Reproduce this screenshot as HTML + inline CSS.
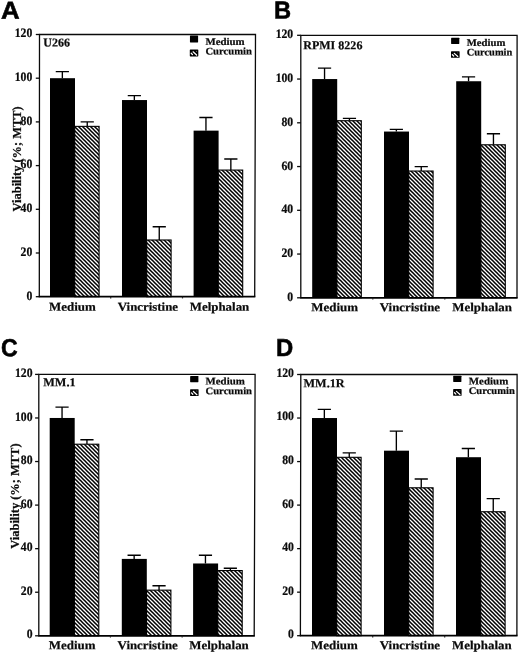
<!DOCTYPE html>
<html lang="en"><head><meta charset="utf-8"><title>Figure</title>
<style>html,body{margin:0;padding:0;background:#fff}svg{display:block;filter:grayscale(1) blur(0.3px)}.s{font-family:"Liberation Serif",serif;font-weight:bold;fill:#0b0b0b;stroke:#0b0b0b;stroke-width:0.22px}.h{font-family:"Liberation Sans",sans-serif;font-weight:bold;fill:#000;stroke:#000;stroke-width:0.55px}</style></head><body>
<svg width="520" height="654" viewBox="0 0 520 654">
<defs><pattern id="hatch" patternUnits="userSpaceOnUse" width="4" height="4"><rect width="4" height="4" fill="#fff"/><path d="M-1,-1 L5,5 M-1,3 L1,5 M3,-1 L5,1" stroke="#000" stroke-width="1.56" fill="none"/></pattern></defs>
<rect width="520" height="654" fill="#fff"/>
<g>
<text class="h" transform="translate(0.9,18.7) rotate(0.03) scale(1.085,1.03)" font-size="23.8">A</text>
<path d="M62.35,78.2 V71.64 M55.75,71.64 H68.95" stroke="#000" stroke-width="1.35" fill="none"/>
<rect x="50" y="78.2" width="25" height="218.5" fill="#000"/>
<path d="M87.25,126.27 V121.9 M80.65,121.9 H93.85" stroke="#000" stroke-width="1.35" fill="none"/>
<rect x="74.7" y="126.37" width="24.4" height="170.33" fill="url(#hatch)" stroke="#000" stroke-width="1.1"/>
<path d="M134.35,100.05 V95.68 M127.75,95.68 H140.95" stroke="#000" stroke-width="1.35" fill="none"/>
<rect x="122" y="100.05" width="25" height="196.65" fill="#000"/>
<path d="M159.25,239.89 V226.78 M152.65,226.78 H165.85" stroke="#000" stroke-width="1.35" fill="none"/>
<rect x="146.7" y="239.99" width="24.4" height="56.71" fill="url(#hatch)" stroke="#000" stroke-width="1.1"/>
<path d="M205.95,130.64 V117.53 M199.35,117.53 H212.55" stroke="#000" stroke-width="1.35" fill="none"/>
<rect x="193.6" y="130.64" width="25" height="166.06" fill="#000"/>
<path d="M230.85,169.97 V159.04 M224.25,159.04 H237.45" stroke="#000" stroke-width="1.35" fill="none"/>
<rect x="218.3" y="170.07" width="24.4" height="126.63" fill="url(#hatch)" stroke="#000" stroke-width="1.1"/>
<path d="M39.3,296.7 L39.5,34.5 L255.5,34.5 L254.7,296.7" stroke="#0a0a0a" stroke-width="1.3" fill="none" stroke-linejoin="miter"/>
<path d="M38.7,296.7 H255.35" stroke="#000" stroke-width="1.7" fill="none"/>
<path d="M35.8,296.7 H39.5" stroke="#0a0a0a" stroke-width="1.3"/>
<text class="s" transform="translate(26.4,299.5) rotate(0.03)" font-size="12.8" textLength="5.85" lengthAdjust="spacingAndGlyphs">0</text>
<path d="M35.8,253 H39.5" stroke="#0a0a0a" stroke-width="1.3"/>
<text class="s" transform="translate(20.55,255.8) rotate(0.03)" font-size="12.8" textLength="11.7" lengthAdjust="spacingAndGlyphs">20</text>
<path d="M35.8,209.3 H39.5" stroke="#0a0a0a" stroke-width="1.3"/>
<text class="s" transform="translate(20.55,212.1) rotate(0.03)" font-size="12.8" textLength="11.7" lengthAdjust="spacingAndGlyphs">40</text>
<path d="M35.8,165.6 H39.5" stroke="#0a0a0a" stroke-width="1.3"/>
<text class="s" transform="translate(20.55,168.4) rotate(0.03)" font-size="12.8" textLength="11.7" lengthAdjust="spacingAndGlyphs">60</text>
<path d="M35.8,121.9 H39.5" stroke="#0a0a0a" stroke-width="1.3"/>
<text class="s" transform="translate(20.55,124.7) rotate(0.03)" font-size="12.8" textLength="11.7" lengthAdjust="spacingAndGlyphs">80</text>
<path d="M35.8,78.2 H39.5" stroke="#0a0a0a" stroke-width="1.3"/>
<text class="s" transform="translate(14.7,81) rotate(0.03)" font-size="12.8" textLength="17.55" lengthAdjust="spacingAndGlyphs">100</text>
<path d="M35.8,34.5 H39.5" stroke="#0a0a0a" stroke-width="1.3"/>
<text class="s" transform="translate(14.7,37.3) rotate(0.03)" font-size="12.8" textLength="17.55" lengthAdjust="spacingAndGlyphs">120</text>
<path d="M110.7,296.7 v1.7" stroke="#222" stroke-width="1.2"/>
<path d="M182.5,296.7 v1.7" stroke="#222" stroke-width="1.2"/>
<text class="s" transform="translate(43.3,46.6) rotate(0.03)" font-size="12.1" textLength="26.6" lengthAdjust="spacingAndGlyphs">U266</text>
<rect x="189.95" y="35.6" width="8.15" height="6.85" rx="0.4" fill="#000"/>
<rect x="189.8" y="49.5" width="8.5" height="6.9" rx="0.6" fill="#000"/>
<path d="M193.1,51.8 L196.6,55" stroke="#fff" stroke-width="1.25" stroke-linecap="round"/>
<path d="M191.2,53.2 L192.5,54.6" stroke="#fff" stroke-width="1.3" stroke-linecap="round"/>
<circle cx="196.6" cy="51.3" r="0.45" fill="#ddd"/>
<text class="s" transform="translate(205.4,44.9) rotate(0.03)" font-size="10.2" textLength="39.3" lengthAdjust="spacingAndGlyphs">Medium</text>
<text class="s" transform="translate(205.4,54.5) rotate(0.03)" font-size="10.2" textLength="46.5" lengthAdjust="spacingAndGlyphs">Curcumin</text>
<text class="s" transform="translate(49,310.7) rotate(0.03)" font-size="12.1" textLength="46.8" lengthAdjust="spacingAndGlyphs">Medium</text>
<text class="s" transform="translate(117.8,310.7) rotate(0.03)" font-size="12.1" textLength="60.2" lengthAdjust="spacingAndGlyphs">Vincristine</text>
<text class="s" transform="translate(189.7,310.7) rotate(0.03)" font-size="12.1" textLength="59.6" lengthAdjust="spacingAndGlyphs">Melphalan</text>
<text class="s" transform="translate(20.7,158.9) rotate(-90)" x="-52.5" y="0" font-size="12.3" textLength="105" lengthAdjust="spacingAndGlyphs">Viability (%; MTT)</text>
</g>
<g>
<text class="h" transform="translate(274.1,18.55) rotate(0.03) scale(0.995,1.03)" font-size="23.8">B</text>
<path d="M324.55,79.05 V68.11 M317.95,68.11 H331.15" stroke="#000" stroke-width="1.35" fill="none"/>
<rect x="312.2" y="79.05" width="25" height="218.75" fill="#000"/>
<path d="M349.45,120.61 V118.43 M342.85,118.43 H356.05" stroke="#000" stroke-width="1.35" fill="none"/>
<rect x="336.9" y="120.71" width="24.4" height="177.09" fill="url(#hatch)" stroke="#000" stroke-width="1.1"/>
<path d="M396.35,131.55 V129.36 M389.75,129.36 H402.95" stroke="#000" stroke-width="1.35" fill="none"/>
<rect x="384" y="131.55" width="25" height="166.25" fill="#000"/>
<path d="M421.25,170.93 V166.55 M414.65,166.55 H427.85" stroke="#000" stroke-width="1.35" fill="none"/>
<rect x="408.7" y="171.03" width="24.4" height="126.78" fill="url(#hatch)" stroke="#000" stroke-width="1.1"/>
<path d="M468.55,81.24 V76.86 M461.95,76.86 H475.15" stroke="#000" stroke-width="1.35" fill="none"/>
<rect x="456.2" y="81.24" width="25" height="216.56" fill="#000"/>
<path d="M493.45,144.68 V133.74 M486.85,133.74 H500.05" stroke="#000" stroke-width="1.35" fill="none"/>
<rect x="480.9" y="144.78" width="24.4" height="153.03" fill="url(#hatch)" stroke="#000" stroke-width="1.1"/>
<path d="M300.8,297.8 L300.8,35.3 L517.1,35.3 L517,297.8" stroke="#0a0a0a" stroke-width="1.3" fill="none" stroke-linejoin="miter"/>
<path d="M300.2,297.8 H517.65" stroke="#000" stroke-width="1.7" fill="none"/>
<path d="M297.1,297.8 H300.8" stroke="#0a0a0a" stroke-width="1.3"/>
<text class="s" transform="translate(287.35,300.9) rotate(0.03)" font-size="12.8" textLength="5.85" lengthAdjust="spacingAndGlyphs">0</text>
<path d="M297.1,254.05 H300.8" stroke="#0a0a0a" stroke-width="1.3"/>
<text class="s" transform="translate(281.5,257.15) rotate(0.03)" font-size="12.8" textLength="11.7" lengthAdjust="spacingAndGlyphs">20</text>
<path d="M297.1,210.3 H300.8" stroke="#0a0a0a" stroke-width="1.3"/>
<text class="s" transform="translate(281.5,213.4) rotate(0.03)" font-size="12.8" textLength="11.7" lengthAdjust="spacingAndGlyphs">40</text>
<path d="M297.1,166.55 H300.8" stroke="#0a0a0a" stroke-width="1.3"/>
<text class="s" transform="translate(281.5,169.65) rotate(0.03)" font-size="12.8" textLength="11.7" lengthAdjust="spacingAndGlyphs">60</text>
<path d="M297.1,122.8 H300.8" stroke="#0a0a0a" stroke-width="1.3"/>
<text class="s" transform="translate(281.5,125.9) rotate(0.03)" font-size="12.8" textLength="11.7" lengthAdjust="spacingAndGlyphs">80</text>
<path d="M297.1,79.05 H300.8" stroke="#0a0a0a" stroke-width="1.3"/>
<text class="s" transform="translate(275.65,82.15) rotate(0.03)" font-size="12.8" textLength="17.55" lengthAdjust="spacingAndGlyphs">100</text>
<path d="M297.1,35.3 H300.8" stroke="#0a0a0a" stroke-width="1.3"/>
<text class="s" transform="translate(275.65,38.4) rotate(0.03)" font-size="12.8" textLength="17.55" lengthAdjust="spacingAndGlyphs">120</text>
<path d="M372.8,297.8 v1.7" stroke="#222" stroke-width="1.2"/>
<path d="M444.8,297.8 v1.7" stroke="#222" stroke-width="1.2"/>
<text class="s" transform="translate(303.2,49.3) rotate(0.03)" font-size="12.1" textLength="59.2" lengthAdjust="spacingAndGlyphs">RPMI 8226</text>
<rect x="451.1" y="37.75" width="8.2" height="6.25" rx="0.4" fill="#000"/>
<rect x="451" y="51.2" width="8.6" height="6.55" rx="0.6" fill="#000"/>
<path d="M454.3,53.38 L457.8,56.42" stroke="#fff" stroke-width="1.25" stroke-linecap="round"/>
<path d="M452.4,54.71 L453.7,56.04" stroke="#fff" stroke-width="1.3" stroke-linecap="round"/>
<circle cx="457.8" cy="52.91" r="0.45" fill="#ddd"/>
<text class="s" transform="translate(466.7,45.9) rotate(0.03)" font-size="10.2" textLength="38.7" lengthAdjust="spacingAndGlyphs">Medium</text>
<text class="s" transform="translate(466.7,55.55) rotate(0.03)" font-size="10.2" textLength="45.6" lengthAdjust="spacingAndGlyphs">Curcumin</text>
<text class="s" transform="translate(311.2,311.2) rotate(0.03)" font-size="12.1" textLength="46.8" lengthAdjust="spacingAndGlyphs">Medium</text>
<text class="s" transform="translate(379.8,311.2) rotate(0.03)" font-size="12.1" textLength="60.2" lengthAdjust="spacingAndGlyphs">Vincristine</text>
<text class="s" transform="translate(452.3,311.2) rotate(0.03)" font-size="12.1" textLength="59.6" lengthAdjust="spacingAndGlyphs">Melphalan</text>
</g>
<g>
<text class="h" transform="translate(1.1,356.2) rotate(0.03) scale(0.97,1.04)" font-size="23.8">C</text>
<path d="M62.05,417.97 V407.07 M55.45,407.07 H68.65" stroke="#000" stroke-width="1.35" fill="none"/>
<rect x="49.7" y="417.97" width="25" height="217.83" fill="#000"/>
<path d="M86.95,444.11 V439.75 M80.35,439.75 H93.55" stroke="#000" stroke-width="1.35" fill="none"/>
<rect x="74.4" y="444.21" width="24.4" height="191.59" fill="url(#hatch)" stroke="#000" stroke-width="1.1"/>
<path d="M134.15,558.9 V555.2 M127.55,555.2 H140.75" stroke="#000" stroke-width="1.35" fill="none"/>
<rect x="121.8" y="558.9" width="25" height="76.9" fill="#000"/>
<path d="M159.05,590.05 V585.7 M152.45,585.7 H165.65" stroke="#000" stroke-width="1.35" fill="none"/>
<rect x="146.5" y="590.15" width="24.4" height="45.65" fill="url(#hatch)" stroke="#000" stroke-width="1.1"/>
<path d="M205.45,563.48 V555.2 M198.85,555.2 H212.05" stroke="#000" stroke-width="1.35" fill="none"/>
<rect x="193.1" y="563.48" width="25" height="72.32" fill="#000"/>
<path d="M230.35,570.45 V568.27 M223.75,568.27 H236.95" stroke="#000" stroke-width="1.35" fill="none"/>
<rect x="217.8" y="570.55" width="24.4" height="65.25" fill="url(#hatch)" stroke="#000" stroke-width="1.1"/>
<path d="M38.8,635.8 L38.8,374.4 L255.1,374.4 L254.2,635.8" stroke="#0a0a0a" stroke-width="1.3" fill="none" stroke-linejoin="miter"/>
<path d="M38.2,635.8 H254.85" stroke="#000" stroke-width="1.7" fill="none"/>
<path d="M35.1,635.8 H38.8" stroke="#0a0a0a" stroke-width="1.3"/>
<text class="s" transform="translate(26.65,638.4) rotate(0.03)" font-size="12.8" textLength="5.85" lengthAdjust="spacingAndGlyphs">0</text>
<path d="M35.1,592.23 H38.8" stroke="#0a0a0a" stroke-width="1.3"/>
<text class="s" transform="translate(20.8,594.83) rotate(0.03)" font-size="12.8" textLength="11.7" lengthAdjust="spacingAndGlyphs">20</text>
<path d="M35.1,548.67 H38.8" stroke="#0a0a0a" stroke-width="1.3"/>
<text class="s" transform="translate(20.8,551.27) rotate(0.03)" font-size="12.8" textLength="11.7" lengthAdjust="spacingAndGlyphs">40</text>
<path d="M35.1,505.1 H38.8" stroke="#0a0a0a" stroke-width="1.3"/>
<text class="s" transform="translate(20.8,507.7) rotate(0.03)" font-size="12.8" textLength="11.7" lengthAdjust="spacingAndGlyphs">60</text>
<path d="M35.1,461.53 H38.8" stroke="#0a0a0a" stroke-width="1.3"/>
<text class="s" transform="translate(20.8,464.13) rotate(0.03)" font-size="12.8" textLength="11.7" lengthAdjust="spacingAndGlyphs">80</text>
<path d="M35.1,417.97 H38.8" stroke="#0a0a0a" stroke-width="1.3"/>
<text class="s" transform="translate(14.95,420.57) rotate(0.03)" font-size="12.8" textLength="17.55" lengthAdjust="spacingAndGlyphs">100</text>
<path d="M35.1,374.4 H38.8" stroke="#0a0a0a" stroke-width="1.3"/>
<text class="s" transform="translate(14.95,377) rotate(0.03)" font-size="12.8" textLength="17.55" lengthAdjust="spacingAndGlyphs">120</text>
<path d="M110.45,635.8 v1.7" stroke="#222" stroke-width="1.2"/>
<path d="M182.15,635.8 v1.7" stroke="#222" stroke-width="1.2"/>
<text class="s" transform="translate(43.2,386.2) rotate(0.03)" font-size="12.1" textLength="32.4" lengthAdjust="spacingAndGlyphs">MM.1</text>
<rect x="190.15" y="376" width="8.25" height="6.15" rx="0.4" fill="#000"/>
<rect x="190.1" y="389.25" width="8.5" height="6.8" rx="0.6" fill="#000"/>
<path d="M193.4,391.52 L196.9,394.67" stroke="#fff" stroke-width="1.25" stroke-linecap="round"/>
<path d="M191.5,392.9 L192.8,394.28" stroke="#fff" stroke-width="1.3" stroke-linecap="round"/>
<circle cx="196.9" cy="391.02" r="0.45" fill="#ddd"/>
<text class="s" transform="translate(205.5,384.5) rotate(0.03)" font-size="10.2" textLength="39.3" lengthAdjust="spacingAndGlyphs">Medium</text>
<text class="s" transform="translate(205.5,394.3) rotate(0.03)" font-size="10.2" textLength="46.5" lengthAdjust="spacingAndGlyphs">Curcumin</text>
<text class="s" transform="translate(48.7,649.3) rotate(0.03)" font-size="12.1" textLength="46.8" lengthAdjust="spacingAndGlyphs">Medium</text>
<text class="s" transform="translate(117.6,649.3) rotate(0.03)" font-size="12.1" textLength="60.2" lengthAdjust="spacingAndGlyphs">Vincristine</text>
<text class="s" transform="translate(189.2,649.3) rotate(0.03)" font-size="12.1" textLength="59.6" lengthAdjust="spacingAndGlyphs">Melphalan</text>
<text class="s" transform="translate(19.4,496.1) rotate(-90)" x="-52.65" y="0" font-size="12.3" textLength="105.3" lengthAdjust="spacingAndGlyphs">Viability (%; MTT)</text>
</g>
<g>
<text class="h" transform="translate(276,356.1) rotate(0.03) scale(1.0,1.03)" font-size="23.8">D</text>
<path d="M324.35,418.03 V409.33 M317.75,409.33 H330.95" stroke="#000" stroke-width="1.35" fill="none"/>
<rect x="312" y="418.03" width="25" height="217.67" fill="#000"/>
<path d="M349.25,457.21 V452.86 M342.65,452.86 H355.85" stroke="#000" stroke-width="1.35" fill="none"/>
<rect x="336.7" y="457.31" width="24.4" height="178.39" fill="url(#hatch)" stroke="#000" stroke-width="1.1"/>
<path d="M396.35,450.68 V431.09 M389.75,431.09 H402.95" stroke="#000" stroke-width="1.35" fill="none"/>
<rect x="384" y="450.68" width="25" height="185.02" fill="#000"/>
<path d="M421.25,487.69 V478.98 M414.65,478.98 H427.85" stroke="#000" stroke-width="1.35" fill="none"/>
<rect x="408.7" y="487.79" width="24.4" height="147.91" fill="url(#hatch)" stroke="#000" stroke-width="1.1"/>
<path d="M468.35,457.21 V448.51 M461.75,448.51 H474.95" stroke="#000" stroke-width="1.35" fill="none"/>
<rect x="456" y="457.21" width="25" height="178.49" fill="#000"/>
<path d="M493.25,511.63 V498.57 M486.65,498.57 H499.85" stroke="#000" stroke-width="1.35" fill="none"/>
<rect x="480.7" y="511.73" width="24.4" height="123.97" fill="url(#hatch)" stroke="#000" stroke-width="1.1"/>
<path d="M300.4,635.7 L300.8,374.5 L517.1,374.5 L516.9,635.7" stroke="#0a0a0a" stroke-width="1.3" fill="none" stroke-linejoin="miter"/>
<path d="M299.8,635.7 H517.55" stroke="#000" stroke-width="1.7" fill="none"/>
<path d="M297.1,635.7 H300.8" stroke="#0a0a0a" stroke-width="1.3"/>
<text class="s" transform="translate(288.1,638.1) rotate(0.03)" font-size="12.8" textLength="5.85" lengthAdjust="spacingAndGlyphs">0</text>
<path d="M297.1,592.17 H300.8" stroke="#0a0a0a" stroke-width="1.3"/>
<text class="s" transform="translate(282.25,594.57) rotate(0.03)" font-size="12.8" textLength="11.7" lengthAdjust="spacingAndGlyphs">20</text>
<path d="M297.1,548.63 H300.8" stroke="#0a0a0a" stroke-width="1.3"/>
<text class="s" transform="translate(282.25,551.03) rotate(0.03)" font-size="12.8" textLength="11.7" lengthAdjust="spacingAndGlyphs">40</text>
<path d="M297.1,505.1 H300.8" stroke="#0a0a0a" stroke-width="1.3"/>
<text class="s" transform="translate(282.25,507.5) rotate(0.03)" font-size="12.8" textLength="11.7" lengthAdjust="spacingAndGlyphs">60</text>
<path d="M297.1,461.57 H300.8" stroke="#0a0a0a" stroke-width="1.3"/>
<text class="s" transform="translate(282.25,463.97) rotate(0.03)" font-size="12.8" textLength="11.7" lengthAdjust="spacingAndGlyphs">80</text>
<path d="M297.1,418.03 H300.8" stroke="#0a0a0a" stroke-width="1.3"/>
<text class="s" transform="translate(276.4,420.43) rotate(0.03)" font-size="12.8" textLength="17.55" lengthAdjust="spacingAndGlyphs">100</text>
<path d="M297.1,374.5 H300.8" stroke="#0a0a0a" stroke-width="1.3"/>
<text class="s" transform="translate(276.4,376.9) rotate(0.03)" font-size="12.8" textLength="17.55" lengthAdjust="spacingAndGlyphs">120</text>
<path d="M372.7,635.7 v1.7" stroke="#222" stroke-width="1.2"/>
<path d="M444.7,635.7 v1.7" stroke="#222" stroke-width="1.2"/>
<text class="s" transform="translate(303.5,387.3) rotate(0.03)" font-size="12.1" textLength="41.2" lengthAdjust="spacingAndGlyphs">MM.1R</text>
<rect x="453.2" y="375.8" width="8.2" height="6.1" rx="0.4" fill="#000"/>
<rect x="453.15" y="389.1" width="8.45" height="6.75" rx="0.6" fill="#000"/>
<path d="M456.45,391.35 L459.95,394.48" stroke="#fff" stroke-width="1.25" stroke-linecap="round"/>
<path d="M454.55,392.72 L455.85,394.09" stroke="#fff" stroke-width="1.3" stroke-linecap="round"/>
<circle cx="459.95" cy="390.86" r="0.45" fill="#ddd"/>
<text class="s" transform="translate(468.75,384.4) rotate(0.03)" font-size="10.2" textLength="39.5" lengthAdjust="spacingAndGlyphs">Medium</text>
<text class="s" transform="translate(468.75,393.9) rotate(0.03)" font-size="10.2" textLength="46" lengthAdjust="spacingAndGlyphs">Curcumin</text>
<text class="s" transform="translate(311,649.3) rotate(0.03)" font-size="12.1" textLength="46.8" lengthAdjust="spacingAndGlyphs">Medium</text>
<text class="s" transform="translate(379.8,649.3) rotate(0.03)" font-size="12.1" textLength="60.2" lengthAdjust="spacingAndGlyphs">Vincristine</text>
<text class="s" transform="translate(452.1,649.3) rotate(0.03)" font-size="12.1" textLength="59.6" lengthAdjust="spacingAndGlyphs">Melphalan</text>
</g>
</svg></body></html>
